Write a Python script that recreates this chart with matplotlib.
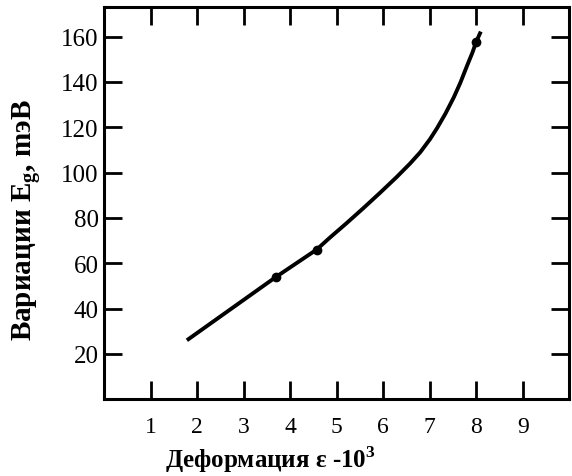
import matplotlib
matplotlib.use("Agg")
import matplotlib.pyplot as plt

# strain (x10^3) vs band gap shift, meV
strain = [1.78, 3.70, 4.57, 4.85, 5.21, 5.57, 5.93, 6.29, 6.58, 6.80, 7.01,
          7.16, 7.34, 7.52, 7.66, 7.81, 7.92, 8.00, 8.10]
delta_eg = [26, 54, 66, 71.2, 77.6, 84.2, 91.0, 98.0, 104.0, 109.0, 114.8,
            119.6, 126.0, 133.2, 139.6, 147.4, 152.9, 157.6, 162.2]

# measured points marked with dots
dot_strain = [3.70, 4.57, 8.00]
dot_eg = [54, 66, 157.6]

x_ticks = [1, 2, 3, 4, 5, 6, 7, 8, 9]
y_ticks = [20, 40, 60, 80, 100, 120, 140, 160]

plt.rcParams['font.family'] = ['Liberation Serif', 'DejaVu Serif']
plt.rcParams['mathtext.fontset'] = 'custom'
plt.rcParams['mathtext.rm'] = 'Liberation Serif'
plt.rcParams['mathtext.bf'] = 'Liberation Serif:bold'

fig = plt.figure(figsize=(5.72, 4.77), dpi=100)
ax = fig.add_axes([0.182, 0.161, 0.813, 0.822])

ax.plot(strain, delta_eg, color='black', linewidth=2.8,
        solid_joinstyle='round', solid_capstyle='butt')
ax.plot(dot_strain, dot_eg, 'o', color='black', markersize=6)

ax.set_xlim(0, 10)
ax.set_ylim(0, 173)
ax.set_xticks(x_ticks)
ax.set_yticks(y_ticks)

for s in ax.spines.values():
    s.set_linewidth(2.2)

ax.tick_params(direction='in', length=13, width=2.0, top=True, right=True)
ax.tick_params(axis='x', pad=12, labelsize=17)
ax.tick_params(axis='y', pad=4, labelsize=18)

fig.text(0.472, 0.019, 'Деформация ε -10$^\\mathbf{3}$', ha='center', va='baseline',
         fontsize=18, fontweight='bold')
fig.text(0.047, 0.539, 'Вариации E$_\\mathbf{g}$, mэВ', ha='center', va='center',
         rotation=90, fontsize=21, fontweight='bold')

fig.savefig('out.png', dpi=100)
